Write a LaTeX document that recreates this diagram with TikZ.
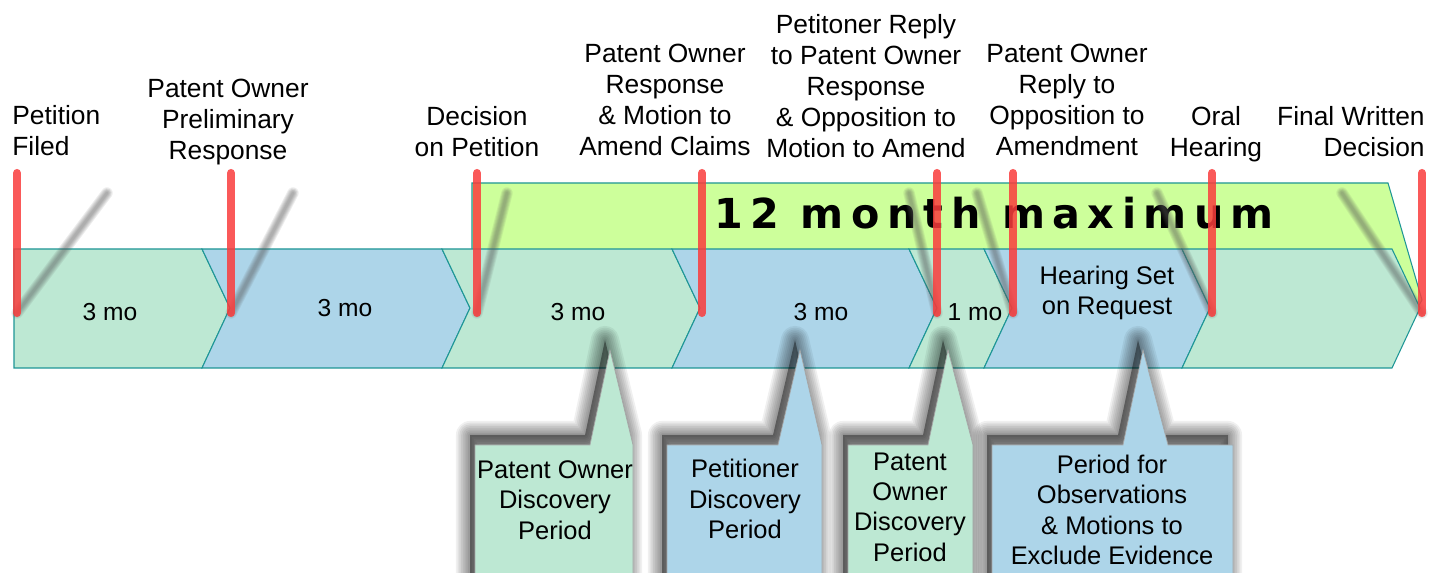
\documentclass[tikz,border=0pt]{standalone}
\usepackage{fontspec}
\setmainfont{Liberation Sans}
\newfontfamily\maxfont[LetterSpace=18]{DejaVu Sans}

\definecolor{bandgreen}{RGB}{189,232,211}
\definecolor{bandblue}{RGB}{173,213,233}
\definecolor{maxgreen}{RGB}{205,255,155}
\definecolor{bandline}{RGB}{30,150,150}
\definecolor{pinred}{RGB}{250,60,60}

\tikzset{
  pin/.style={pinred, line width=4.6pt, line cap=round, opacity=.85},
  label/.style={font=\fontsize{15}{17.7}\selectfont, align=center, inner sep=0pt},
  calltext/.style={font=\fontsize{14.5}{17.3}\selectfont, align=center, inner sep=0pt},
  motext/.style={font=\fontsize{14}{16}\selectfont, inner sep=0pt}
}

\begin{document}
\begin{tikzpicture}[x=0.02cm,y=-0.02cm]
        \clip (0,0) rectangle (1431,573);
        \fill[white] (0,0) rectangle (1431,573);
        \def\oben{249}
        \def\mitte{308}
        \def\unten{368}
        \def\tiefe{28}

        % 12 Monate
        \filldraw[fill=maxgreen, draw=bandline, line width=.6pt] (472,183) -- (1388,183) -- (1422,300) -- (1388,360) -- (472,360) -- cycle;
        \node[font=\maxfont\bfseries\fontsize{23.5}{26}\selectfont] (maximum) at (994,213) {12 month maximum};

        % Band
        \filldraw[fill=bandgreen, draw=bandline, line width=.6pt] (14,\oben) -- (230-\tiefe,\oben) -- (230,\mitte) -- (230-\tiefe,\unten) -- (14,\unten) -- cycle;
        \foreach \a/\b/\farbe in {230/470/bandblue, 470/700/bandgreen, 700/937/bandblue, 937/1012/bandgreen, 1012/1210/bandblue, 1210/1420/bandgreen}
        {
            \filldraw[fill=\farbe, draw=bandline, line width=.6pt] (\a-\tiefe,\oben) -- (\b-\tiefe,\oben) -- (\b,\mitte) -- (\b-\tiefe,\unten) -- (\a-\tiefe,\unten) -- (\a,\mitte) -- cycle;
        }

        \node[motext] (mo1) at (110,312) {3 mo};
        \node[motext] (mo2) at (345,308) {3 mo};
        \node[motext] (mo3) at (578,312) {3 mo};
        \node[motext] (mo4) at (821,312) {3 mo};
        \node[motext] (mo5) at (975,312) {1 mo};
        \node[label, font=\fontsize{14.5}{17.3}\selectfont] (hearingset) at (1107,293) {Hearing Set\\on Request};

        % Stecknadeln
        \foreach \x [count=\i] in {17,231,477,702,937,1013,1212,1422}
        {
            \coordinate (fuss\i) at (\x,313);
            \coordinate (kopf\i) at (\x,173);
        }
        % Schatten der Nadeln
        \foreach \i/\dx in {1/90, 2/62, 3/30, 5/-28, 6/-36, 7/-55, 8/-80}
            \foreach \w in {6.5,5.5,...,1.5}
                \draw[gray!70!black, opacity=.1, line width=\w pt, line cap=round] (fuss\i) -- ++(\dx,-120);
        \foreach \i in {1,...,8}
            \draw[pin] (fuss\i) -- (kopf\i);

        % Ereignisse
        \node[label, align=left, anchor=base west] (filed) at (12,156) {Petition\\Filed};
        \node[label, anchor=base] (prelim) at (228,160) {Patent Owner\\Preliminary\\Response};
        \node[label, anchor=base] (decision) at (477,157) {Decision\\on Petition};
        \node[label, anchor=base] (poresponse) at (665,156) {Patent Owner\\Response\\\& Motion to\\Amend Claims};
        \node[label, anchor=base] (petreply) at (866,158) {Petitoner Reply\\to Patent Owner\\Response\\\& Opposition to\\Motion to Amend};
        \node[label, anchor=base] (poreply) at (1067,156) {Patent Owner\\Reply to\\Opposition to\\Amendment};
        \node[label, anchor=base] (oral) at (1216,157) {Oral\\Hearing};
        \node[label, align=right, anchor=base east] (final) at (1425,157) {Final Written\\Decision};

        % Sprechblasen
        \foreach \l/\r/\tl/\tr/\tx/\farbe in {475/633/590/633/610/bandgreen, 667/822/778/822/800/bandblue, 848/973/928/973/948/bandgreen, 992/1233/1123/1168/1143/bandblue}
        {
            \foreach \w in {16,14,...,2}
                \draw[black, opacity=.06, line width=\w pt, line join=round, shift={(-5,-10)}] (\l,445) -- (\tl,445) -- (\tx,350) -- (\tr,445) -- (\r,445) -- (\r,600) -- (\l,600) -- cycle;
            \fill[black, opacity=.4, shift={(-5,-10)}] (\l,445) -- (\tl,445) -- (\tx,350) -- (\tr,445) -- (\r,445) -- (\r,600) -- (\l,600) -- cycle;
            \filldraw[fill=\farbe, draw=gray!70, line width=.4pt] (\l,445) -- (\tl,445) -- (\tx,350) -- (\tr,445) -- (\r,445) -- (\r,600) -- (\l,600) -- cycle;
        }
        \node[calltext] (podisc) at (555,500) {Patent Owner\\Discovery\\Period};
        \node[calltext] (petdisc) at (745,499) {Petitioner\\Discovery\\Period};
        \node[calltext] (podisctwo) at (910,507) {Patent\\Owner\\Discovery\\Period};
        \node[calltext] (observ) at (1112,510) {Period for\\Observations\\\& Motions to\\Exclude Evidence};
\end{tikzpicture}
\end{document}
